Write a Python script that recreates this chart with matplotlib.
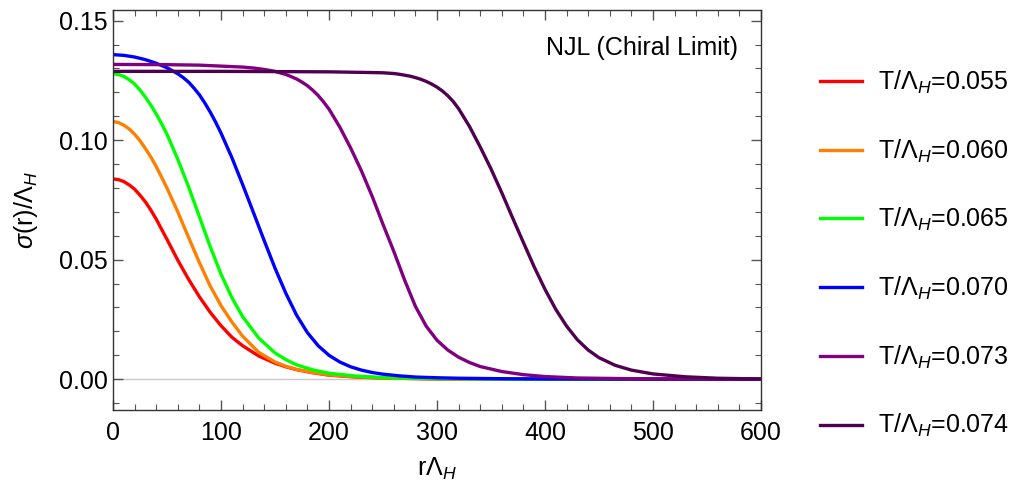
import numpy as np
import matplotlib
matplotlib.use("Agg")
import matplotlib.pyplot as plt
from matplotlib.ticker import MultipleLocator, FormatStrFormatter

plt.rcParams['font.family'] = ['Liberation Sans', 'DejaVu Sans']
plt.rcParams['mathtext.fontset'] = 'custom'
plt.rcParams['mathtext.rm'] = 'Liberation Sans'
plt.rcParams['mathtext.it'] = 'Liberation Sans:italic'

# sigma(r) profiles at several temperatures (NJL, chiral limit)
temps = ['0.055', '0.060', '0.065', '0.070', '0.073', '0.074']
colors = ['#ff0000', '#ff8000', '#00ff00', '#0000ff', '#800080', '#500050']

r_055 = [0, 5, 10, 15, 20, 25, 30, 35, 40, 50, 60, 70, 80, 90, 100, 110, 120, 135, 150, 160, 170,
         185, 200, 225, 250, 300, 400, 500, 600]
s_055 = [0.0838, 0.0835, 0.0827, 0.0813, 0.0795, 0.0770, 0.0742, 0.0708, 0.0670, 0.0585, 0.0498,
         0.0418, 0.0345, 0.0280, 0.0224, 0.0176, 0.0140, 0.0097, 0.0067, 0.0052, 0.0040, 0.0027,
         0.0017, 0.0009, 0.0005, 0.0001, 0.0, 0.0, 0.0]

r_060 = [0, 5, 10, 15, 20, 25, 30, 35, 40, 50, 60, 70, 80, 90, 100, 110, 120, 135, 150, 160, 170,
         185, 200, 225, 250, 300, 400, 500, 600]
s_060 = [0.1078, 0.1074, 0.1063, 0.1047, 0.1025, 0.0998, 0.0965, 0.0930, 0.0890, 0.0800, 0.0700,
         0.0593, 0.0488, 0.0390, 0.0308, 0.0240, 0.0180, 0.0112, 0.0072, 0.0054, 0.0041, 0.0028,
         0.0018, 0.0010, 0.0005, 0.0001, 0.0, 0.0, 0.0]

r_065 = [0, 5, 10, 15, 20, 25, 30, 35, 40, 45, 50, 60, 70, 80, 90, 100, 110, 120, 135, 150, 160,
         170, 185, 200, 225, 250, 300, 400, 500, 600]
s_065 = [0.1278, 0.1275, 0.1267, 0.1253, 0.1235, 0.1210, 0.1180, 0.1147, 0.1110, 0.1069, 0.1025,
         0.0920, 0.0805, 0.0680, 0.0555, 0.0440, 0.0342, 0.0262, 0.0172, 0.0110, 0.0082, 0.0060,
         0.0039, 0.0025, 0.0013, 0.0007, 0.0002, 0.0, 0.0, 0.0]

r_070 = [0, 10, 20, 30, 40, 50, 60, 65, 70, 75, 80, 85, 90, 95, 100, 110, 120, 130, 140, 150, 160,
         170, 180, 190, 200, 210, 220, 230, 240, 250, 265, 280, 300, 320, 360, 400, 500, 600]
s_070 = [0.1358, 0.1355, 0.1348, 0.1337, 0.1322, 0.1303, 0.1278, 0.1262, 0.1243, 0.1218, 0.1190,
         0.1156, 0.1118, 0.1076, 0.1030, 0.0928, 0.0815, 0.0698, 0.0580, 0.0465, 0.0360, 0.0268,
         0.0195, 0.0140, 0.0100, 0.0072, 0.0052, 0.0038, 0.0028, 0.0021, 0.0014, 0.0009, 0.0006,
         0.0004, 0.0002, 0.0001, 0.0, 0.0]

r_073 = [0, 50, 80, 100, 120, 130, 140, 150, 160, 165, 170, 175, 180, 185, 190, 195, 200, 210, 220,
         230, 240, 250, 260, 270, 280, 290, 300, 310, 320, 330, 340, 360, 380, 400, 430, 480, 600]
s_073 = [0.1317, 0.1316, 0.1314, 0.1310, 0.1306, 0.1302, 0.1296, 0.1288, 0.1275, 0.1266, 0.1256,
         0.1243, 0.1228, 0.1209, 0.1187, 0.1160, 0.1130, 0.1055, 0.0968, 0.0872, 0.0765, 0.0648,
         0.0535, 0.0415, 0.0305, 0.0222, 0.0163, 0.0122, 0.0092, 0.0070, 0.0053, 0.0032, 0.0019,
         0.0011, 0.0005, 0.0002, 0.0]

r_074 = [0, 100, 200, 240, 250, 260, 265, 270, 275, 280, 285, 290, 295, 300, 305, 310, 315, 320,
         330, 340, 350, 360, 370, 380, 390, 400, 410, 420, 430, 440, 450, 465, 480, 500, 530, 560,
         600]
s_074 = [0.1288, 0.1288, 0.1286, 0.1283, 0.1282, 0.1279, 0.1276, 0.1272, 0.1268, 0.1262, 0.1255,
         0.1246, 0.1235, 0.1222, 0.1206, 0.1186, 0.1162, 0.1132, 0.1058, 0.0972, 0.0880, 0.0780,
         0.0675, 0.0572, 0.0470, 0.0376, 0.0292, 0.0222, 0.0165, 0.0122, 0.0090, 0.0058, 0.0038,
         0.0022, 0.0010, 0.0004, 0.0001]

radii = [r_055, r_060, r_065, r_070, r_073, r_074]
sigmas = [s_055, s_060, s_065, s_070, s_073, s_074]

fs = 18

fig = plt.figure(figsize=(10.27, 4.97), dpi=100)
ax = fig.add_axes([0.110, 0.175, 0.631, 0.805])

ax.axhline(0, color='#c8c8c8', lw=1.0, zorder=1)
for T, c, r, s in zip(temps, colors, radii, sigmas):
    ax.plot(r, s, color=c, lw=2.4, label=r'T/$\Lambda_H$=' + T, zorder=2,
            solid_joinstyle='round')

ax.set_xlim(0, 600)
ax.set_ylim(-0.0129, 0.1545)
ax.xaxis.set_major_locator(MultipleLocator(100))
ax.xaxis.set_minor_locator(MultipleLocator(20))
ax.yaxis.set_major_locator(MultipleLocator(0.05))
ax.yaxis.set_minor_locator(MultipleLocator(0.01))
ax.yaxis.set_major_formatter(FormatStrFormatter('%.2f'))
ax.tick_params(which='both', direction='in', top=True, right=True, color='#555555', labelsize=fs)
ax.tick_params(which='major', length=7, width=1)
ax.tick_params(which='minor', length=4, width=0.8)
ax.tick_params(axis='x', pad=8)
for sp in ax.spines.values():
    sp.set_color('#333333')
    sp.set_linewidth(1.0)

ax.set_xlabel(r'r$\Lambda_H$', fontsize=fs, labelpad=8)
ax.set_ylabel(r'$\sigma$(r)/$\Lambda_H$', fontsize=fs, labelpad=14)
ax.text(0.965, 0.905, 'NJL (Chiral Limit)', transform=ax.transAxes, ha='right', va='center', fontsize=fs)

ax.legend(loc='upper left', bbox_to_anchor=(1.076, 0.878), frameon=False, fontsize=fs,
          handlelength=1.65, handletextpad=0.65, labelspacing=1.66, borderaxespad=0)

fig.savefig('out.png', dpi=100)
